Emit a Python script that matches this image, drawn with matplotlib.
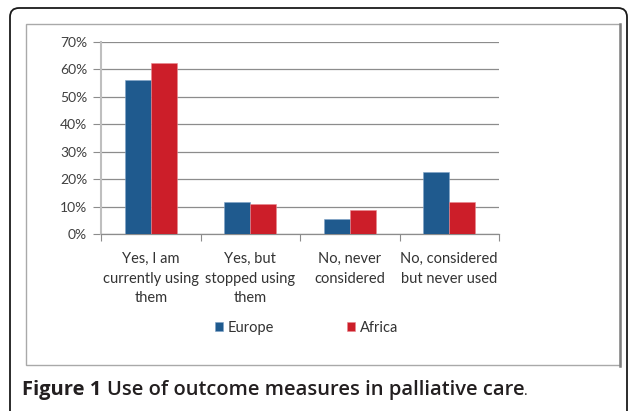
import matplotlib
matplotlib.use("Agg")
import matplotlib.pyplot as plt
import numpy as np
from matplotlib.patches import FancyBboxPatch, Rectangle
from matplotlib.lines import Line2D

# survey answers, share of respondents per region
categories = ["Yes, I am\ncurrently using\nthem", "Yes, but\nstopped using\nthem",
              "No, never\nconsidered", "No, considered\nbut never used"]
europe = [0.56, 0.117, 0.053, 0.227]
africa = [0.623, 0.111, 0.089, 0.117]
yticks = [0, 0.1, 0.2, 0.3, 0.4, 0.5, 0.6, 0.7]

blue = "#1F5A8E"
red = "#CC1E29"
label_font = "Lato"

W, H = 629, 411
fig = plt.figure(figsize=(W / 100, H / 100), dpi=100)

# outer rounded frame and inner chart-area box (display coords, pixels)
fig.patches.append(FancyBboxPatch((10, -30), 617, 433, boxstyle="round,pad=0,rounding_size=9",
                                  transform=None, fill=False, ec="#1a1a1a", lw=1.3, zorder=0))
fig.patches.append(Rectangle((26, H - 365), 594, 341, transform=None, fill=False,
                             ec="#A9A9A9", lw=1.0, zorder=0))
fig.lines.append(Line2D([620, 620], [H - 366, H - 24], transform=None, color="#7F7F7F", lw=1.8))

ax = fig.add_axes([101 / W, (H - 234) / H, 398 / W, 192 / H])
x = np.arange(len(categories))
w = 0.26
ax.bar(x - w / 2, europe, w, color=blue, edgecolor="#7FA3C7", linewidth=0.4, label="Europe", zorder=3)
ax.bar(x + w / 2, africa, w, color=red, edgecolor="#E8888E", linewidth=0.4, label="Africa", zorder=3)

ax.set_xlim(-0.5, len(categories) - 0.5)
ax.set_ylim(0, 0.7)
ax.set_yticks(yticks)
ax.set_yticklabels([f"{int(round(v * 100))}%" for v in yticks], fontfamily=label_font,
                   fontsize=10, color="#404040")
ax.yaxis.grid(True, color="#8C8C8C", lw=0.9, zorder=0)
ax.tick_params(axis="y", length=6, width=0.8, color="#8C8C8C", pad=4)

# category boundaries carry the tick marks, labels sit at the centres
ax.set_xticks(np.arange(len(categories) + 1) - 0.5)
ax.set_xticklabels([])
ax.tick_params(axis="x", which="major", length=5, width=0.8, color="#8C8C8C")
ax.set_xticks(x, minor=True)
ax.set_xticklabels(categories, minor=True, fontfamily=label_font, fontsize=10.5,
                   color="#333333", linespacing=1.5)
ax.tick_params(axis="x", which="minor", length=0, pad=13)

for s in ["top", "right"]:
    ax.spines[s].set_visible(False)
ax.spines["left"].set_color("#BFBFBF")
ax.spines["left"].set_linewidth(1.5)
ax.spines["bottom"].set_color("#8C8C8C")
ax.spines["bottom"].set_linewidth(0.9)

fig.legend(loc="center", bbox_to_anchor=(306.5 / W, (H - 327.5) / H), ncol=2, frameon=False,
           prop={"family": label_font, "size": 10.5}, handlelength=0.55, handleheight=0.55,
           handletextpad=0.35, columnspacing=5.0, labelcolor="#333333")

# caption under the chart box
fig.canvas.draw()
r = fig.canvas.get_renderer()
t1 = fig.text(22 / W, 16 / H, "Figure 1 ", fontfamily="Open Sans", fontweight="bold",
              fontsize=14.5, color="#231F20")
bb = t1.get_window_extent(r)
t2 = fig.text(bb.x1 / W, 16 / H, "Use of outcome measures in palliative care",
              fontfamily="Open Sans", fontweight="semibold", fontsize=14.5, color="#231F20")
bb2 = t2.get_window_extent(r)
fig.text(bb2.x1 / W, 16 / H, ".", fontfamily="Open Sans", fontsize=10, color="#231F20")

fig.savefig("out.png", dpi=100)
